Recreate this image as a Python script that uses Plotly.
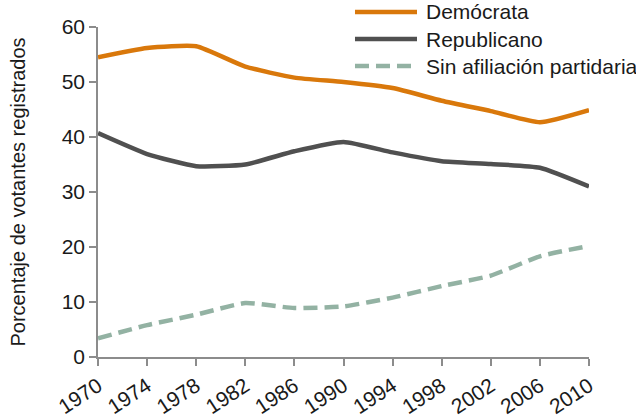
import plotly.graph_objects as go

years = [1970, 1974, 1978, 1982, 1986, 1990, 1994, 1998, 2002, 2006, 2010]
democrata = [54.5, 56.2, 56.5, 52.8, 50.8, 50.0, 48.9, 46.6, 44.7, 42.7, 44.9]
republicano = [40.7, 36.9, 34.7, 35.0, 37.4, 39.1, 37.2, 35.6, 35.1, 34.4, 31.0]
sin_afiliacion = [3.4, 5.8, 7.7, 9.8, 8.9, 9.2, 10.8, 12.9, 14.8, 18.3, 20.2]

series_names = ["Demócrata", "Republicano", "Sin afiliación partidaria"]
series_values = [democrata, republicano, sin_afiliacion]
colors = ["#D9780B", "#505050", "#93B2A3"]
dashes = ["solid", "solid", "14px,7px"]

fig = go.Figure()
for name, vals, col, dsh in zip(series_names, series_values, colors, dashes):
    fig.add_trace(go.Scatter(x=years, y=vals, name=name, mode="lines", showlegend=False,
                             line=dict(color=col, width=4.5, dash=dsh, shape="spline", smoothing=0.5)))

# legend drawn as shapes + text (long line samples like the original)
leg_y = [1.0455, 0.9636, 0.8818]
shapes = []
annotations = []
for name, col, dsh, yy in zip(series_names, colors, dashes, leg_y):
    shapes.append(dict(type="line", xref="paper", yref="paper", x0=0.5234, x1=0.6497,
                       y0=yy, y1=yy, line=dict(color=col, width=4.5, dash=dsh)))
    annotations.append(dict(text=name, xref="paper", yref="paper", x=0.664, y=yy,
                            xanchor="left", yanchor="middle", showarrow=False,
                            font=dict(size=21, color="#1a1a1a")))

axis_color = "#8C8C8C"
fig.update_layout(
    width=636, height=419,
    margin=dict(l=98, r=47, t=27, b=62, autoexpand=False),
    paper_bgcolor="white", plot_bgcolor="white",
    font=dict(family="Liberation Sans, Arial, sans-serif", size=21, color="#1a1a1a"),
    shapes=shapes, annotations=annotations,
    xaxis=dict(range=[1970, 2010], tickvals=years, ticktext=[str(y) for y in years],
               tickangle=-33, showgrid=False, zeroline=False, showline=True, automargin=False,
               linecolor=axis_color, linewidth=1.5, ticks="outside", ticklen=7,
               tickcolor=axis_color, tickwidth=1.5, tickfont=dict(size=21)),
    yaxis=dict(range=[0, 60], tickvals=[0, 10, 20, 30, 40, 50, 60], showgrid=False,
               zeroline=False, showline=True, automargin=False, linecolor=axis_color, linewidth=1.5,
               ticks="outside", ticklen=7, tickcolor=axis_color, tickwidth=1.5,
               tickfont=dict(size=21),
               title=dict(text="Porcentaje de votantes registrados", font=dict(size=20), standoff=31)),
)
fig.write_html("out.html", config={"displayModeBar": False},
               post_script="document.body.style.margin='0';document.body.style.padding='0';")
